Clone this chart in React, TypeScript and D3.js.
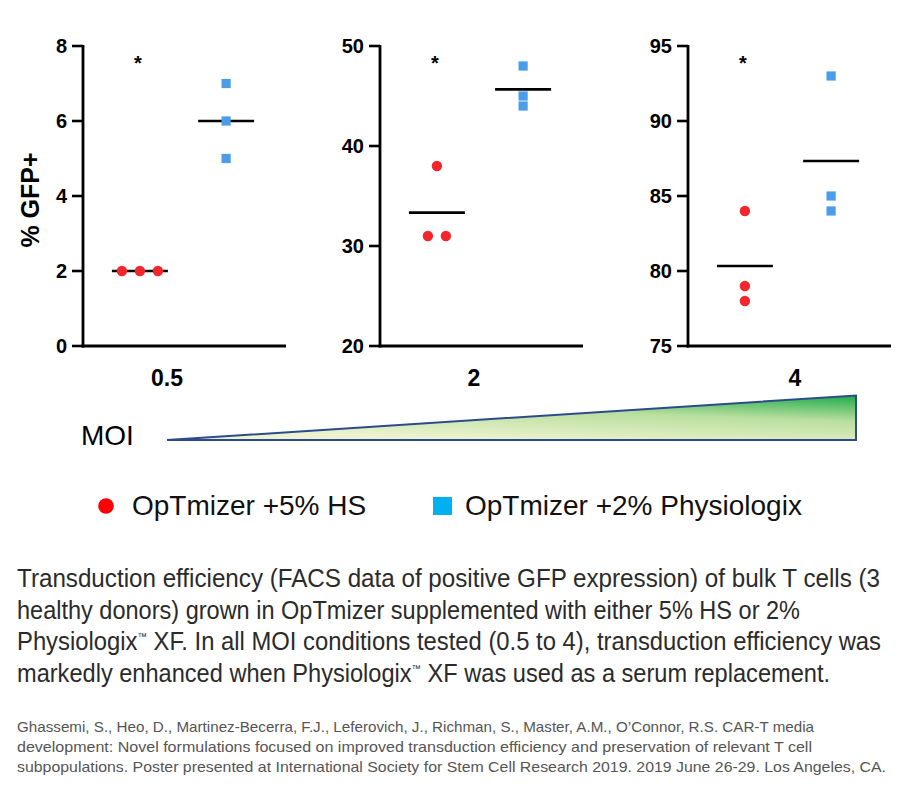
import React from 'react';
import * as d3 from 'd3';

// MOI conditions and the three donors per medium (% GFP+)
const moiLabels = ['0.5', '2', '4'];
const groups = ['HS', 'Physiologix'];
const hsValues = [
  [2, 2, 2],
  [38, 31, 31],
  [84, 79, 78],
];
const physValues = [
  [7, 6, 5],
  [48, 45, 44],
  [93, 85, 84],
];
const yDomains = [
  [0, 8],
  [20, 50],
  [75, 95],
];
const yTicks = [
  [0, 2, 4, 6, 8],
  [20, 30, 40, 50],
  [75, 80, 85, 90, 95],
];
const legendLabels = ['OpTmizer +5% HS', 'OpTmizer +2% Physiologix'];

const captionLines = [
  ['Transduction efficiency (FACS data of positive GFP expression) of bulk T cells (3'],
  ['healthy donors) grown in OpTmizer supplemented with either 5% HS or 2%'],
  ['Physiologix', 'XF. In all MOI conditions tested (0.5 to 4), transduction efficiency was'],
  ['markedly enhanced when Physiologix', 'XF was used as a serum replacement.'],
];
const captionWidths = [863, 783, 864, 813];
const refLines = [
  'Ghassemi, S., Heo, D., Martinez-Becerra, F.J., Leferovich, J., Richman, S., Master, A.M., O\u2019Connor, R.S. CAR-T media',
  'development: Novel formulations focused on improved transduction efficiency and preservation of relevant T cell',
  'subpopulations. Poster presented at International Society for Stem Cell Research 2019. 2019 June 26-29. Los Angeles, CA.',
];
const refWidths = [797, 795, 869];

const RED = '#f2262b';
const BLUE = '#4b9de9';
const panelX = [83, 380, 688];
const labelDx = [84, 94, 107];
const axisLen = 203;
const top = 46;
const bottom = 346;
const SPREAD = 18;

const bold = "'Liberation Sans', Arial, sans-serif";
const narrow = "'Liberation Sans Narrow', 'Liberation Sans', Arial, sans-serif";

// spread identical values side by side, like a scatter dot plot
const offsets = (vals: number[]) =>
  vals.map((v, i) => {
    const same = vals.map((w, j) => (w === v ? j : -1)).filter((j) => j >= 0);
    const k = same.indexOf(i);
    return (k - (same.length - 1) / 2) * SPREAD;
  });

const Panel = ({ idx }: { idx: number }) => {
  const x0 = panelX[idx];
  const y = d3.scaleLinear().domain(yDomains[idx]).range([bottom, top]);
  const x = d3.scalePoint().domain(groups).range([0, 200]).padding(0.66);
  const hs = hsValues[idx];
  const ph = physValues[idx];
  const cx1 = x0 + (x('HS') as number);
  const cx2 = x0 + (x('Physiologix') as number);
  const m1 = d3.mean(hs) as number;
  const m2 = d3.mean(ph) as number;
  const off = offsets(hs);
  return (
    <g>
      <line x1={x0} x2={x0} y1={top - 1} y2={bottom + 1.4} stroke="#000" strokeWidth={2.8} />
      <line x1={x0 - 1.4} x2={x0 + axisLen} y1={bottom} y2={bottom} stroke="#000" strokeWidth={2.8} />
      {yTicks[idx].map((t) => (
        <g key={t}>
          <line x1={x0 - 11} x2={x0} y1={y(t)} y2={y(t)} stroke="#000" strokeWidth={2.6} />
          <text
            x={x0 - 16}
            y={y(t)}
            dy="0.36em"
            textAnchor="end"
            fontFamily={bold}
            fontWeight="bold"
            fontSize={20}
          >
            {t}
          </text>
        </g>
      ))}
      <text x={cx1 - 2} y={70} textAnchor="middle" fontFamily={bold} fontWeight="bold" fontSize={20}>
        *
      </text>
      <line x1={cx1 - 28} x2={cx1 + 28} y1={y(m1)} y2={y(m1)} stroke="#000" strokeWidth={2.6} />
      <line x1={cx2 - 28} x2={cx2 + 28} y1={y(m2)} y2={y(m2)} stroke="#000" strokeWidth={2.6} />
      {hs.map((v, i) => (
        <circle key={i} cx={cx1 + off[i]} cy={y(v)} r={5.2} fill={RED} />
      ))}
      {ph.map((v, i) => (
        <rect key={i} x={cx2 - 4.6} y={y(v) - 4.6} width={9.2} height={9.2} fill={BLUE} />
      ))}
      <text
        x={x0 + labelDx[idx]}
        y={386}
        textAnchor="middle"
        fontFamily={bold}
        fontWeight="bold"
        fontSize={23}
      >
        {moiLabels[idx]}
      </text>
    </g>
  );
};

export default function App() {
  return (
    <svg width={908} height={786} style={{ display: 'block', margin: -8, background: '#fff' }}>
      <defs>
        <linearGradient id="moiGrad" x1="0.45" y1="1" x2="1" y2="0">
          <stop offset="0" stopColor="#eef3cf" />
          <stop offset="0.55" stopColor="#b9df9f" />
          <stop offset="1" stopColor="#1eab48" />
        </linearGradient>
      </defs>
      <rect width={908} height={786} fill="#fff" />

      <text
        transform="translate(39,200) rotate(-90)"
        textAnchor="middle"
        fontFamily={bold}
        fontWeight="bold"
        fontSize={25}
      >
        % GFP+
      </text>
      {moiLabels.map((_, i) => (
        <Panel key={i} idx={i} />
      ))}

      <text x={81} y={445} fontFamily={bold} fontSize={28}>
        MOI
      </text>
      <path
        d="M167,440 L856,395.5 L856,440 Z"
        fill="url(#moiGrad)"
        stroke="#2d4b8c"
        strokeWidth={2}
        strokeLinejoin="miter"
      />

      <circle cx={106} cy={506} r={7.8} fill="#fe0000" />
      <text x={132} y={515} fontFamily={bold} fontSize={28} fill="#111">
        {legendLabels[0]}
      </text>
      <rect x={433} y={497} width={19} height={18} fill="#00b0f0" />
      <text x={465} y={515} fontFamily={bold} fontSize={28} fill="#111">
        {legendLabels[1]}
      </text>

      {captionLines.map((parts, i) => (
        <text
          key={i}
          x={17}
          y={587 + i * 31.7}
          fontFamily={narrow}
          fontSize={25}
          fill="#2b2b2b"
          textLength={captionWidths[i]}
          lengthAdjust="spacingAndGlyphs"
        >
          {parts.map((p, j) => (
            <React.Fragment key={j}>
              {j > 0 && (
                <tspan fontSize={10} dy={-10}>
                  {'\u2122'}
                </tspan>
              )}
              <tspan dy={j > 0 ? 10 : 0}>{(j > 0 ? ' ' : '') + p}</tspan>
            </React.Fragment>
          ))}
        </text>
      ))}

      {refLines.map((l, i) => (
        <text
          key={i}
          x={17}
          y={732 + i * 20}
          fontFamily={narrow}
          fontSize={15}
          fill="#555"
          textLength={refWidths[i]}
          lengthAdjust="spacingAndGlyphs"
        >
          {l}
        </text>
      ))}
    </svg>
  );
}
